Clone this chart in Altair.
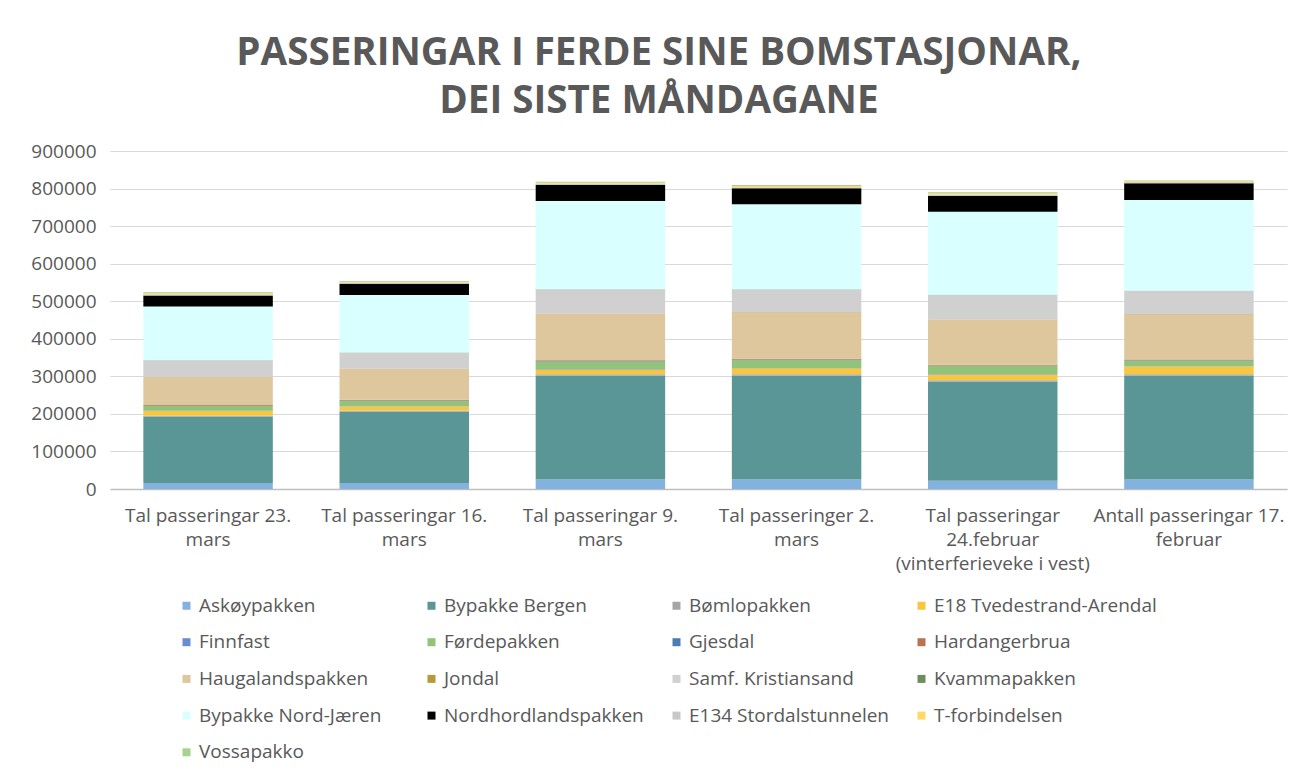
import json
import altair as alt
import pandas as pd

# ---- categories (x) ----
categories = [
    "Tal passeringar 23. mars",
    "Tal passeringar 16. mars",
    "Tal passeringar 9. mars",
    "Tal passeringer 2. mars",
    "Tal passeringar 24.februar (vinterferieveke i vest)",
    "Antall passeringar 17. februar",
]
category_lines = [
    ["Tal passeringar 23.", "mars"],
    ["Tal passeringar 16.", "mars"],
    ["Tal passeringar 9.", "mars"],
    ["Tal passeringer 2.", "mars"],
    ["Tal passeringar", "24.februar", "(vinterferieveke i vest)"],
    ["Antall passeringar 17.", "februar"],
]

# ---- series (stack order bottom -> top) ----
series = [
    "Askøypakken", "Bypakke Bergen", "Bømlopakken", "E18 Tvedestrand-Arendal",
    "Finnfast", "Førdepakken", "Gjesdal", "Hardangerbrua",
    "Haugalandspakken", "Jondal", "Samf. Kristiansand", "Kvammapakken",
    "Bypakke Nord-Jæren", "Nordhordlandspakken", "E134 Stordalstunnelen", "T-forbindelsen",
    "Vossapakko",
]
colors = [
    "#84B2DE", "#5A9696", "#A6A6A6", "#F9C640",
    "#6A8CD2", "#91C47A", "#4C7DB2", "#B97350",
    "#DEC79D", "#B49A38", "#D0D0D0", "#6B8E5A",
    "#D9FFFF", "#000000", "#C8C8C8", "#FFD966",
    "#A9D18E",
]

# ---- values per series, one per category ----
askoy = [16000, 16000, 25000, 25000, 22000, 25000]
bypakke_bergen = [177000, 190500, 277500, 277500, 264500, 277500]
bomlo = [2000, 2000, 3000, 3000, 3000, 3000]
e18 = [13000, 11000, 13000, 16000, 15500, 20500]
finnfast = [1000, 1000, 1000, 1000, 1000, 1000]
forde = [12000, 14000, 20000, 21000, 22000, 14500]
gjesdal = [500, 1000, 1000, 1000, 1000, 1000]
hardangerbrua = [2000, 2000, 2000, 2000, 2000, 2500]
haugaland = [74500, 82000, 124000, 123000, 119500, 120000]
jondal = [500, 500, 1000, 1000, 1000, 1000]
samf_kristiansand = [43500, 43000, 63500, 59500, 65000, 61000]
kvamma = [500, 500, 1000, 1000, 1000, 1000]
nord_jaeren = [143500, 153000, 235000, 227000, 221000, 241500]
nordhordland = [29000, 30000, 42500, 42500, 42000, 44500]
e134 = [3000, 2500, 3000, 3000, 3500, 3000]
t_forbindelsen = [3000, 2500, 3000, 3500, 3500, 2500]
vossapakko = [3000, 2000, 2500, 2500, 2500, 2000]

series_values = [
    askoy, bypakke_bergen, bomlo, e18, finnfast, forde, gjesdal, hardangerbrua,
    haugaland, jondal, samf_kristiansand, kvamma, nord_jaeren, nordhordland,
    e134, t_forbindelsen, vossapakko,
]

y_ticks = [0, 100000, 200000, 300000, 400000, 500000, 600000, 700000, 800000, 900000]

rows = []
for si, (name, vals) in enumerate(zip(series, series_values)):
    for ci, cat in enumerate(categories):
        rows.append({"kategori": cat, "serie": name, "verdi": vals[ci], "idx": si})
df = pd.DataFrame(rows)

FONT = "Open Sans"
TXT = "#595959"

label_expr = "{}[indexof({}, datum.value)]".format(
    json.dumps(category_lines, ensure_ascii=False), json.dumps(categories, ensure_ascii=False)
)

chart = alt.Chart(df).mark_bar().encode(
    x=alt.X(
        "kategori:N",
        sort=categories,
        scale=alt.Scale(paddingInner=0.34, paddingOuter=0.17),
        axis=alt.Axis(
            title=None, labelAngle=0, ticks=False, domainColor="#BFBFBF", domainWidth=1.5,
            labelFontSize=19, labelColor=TXT, labelFont=FONT, labelPadding=17,
            labelLineHeight=24, labelLimit=400, labelExpr=label_expr, grid=False,
        ),
    ),
    y=alt.Y(
        "verdi:Q",
        stack="zero",
        scale=alt.Scale(domain=[0, 900000], nice=False),
        axis=alt.Axis(
            title=None, ticks=False, domain=False, values=y_ticks, format="d",
            gridColor="#D9D9D9", labelFontSize=19, labelColor=TXT, labelFont=FONT,
            labelPadding=14,
        ),
    ),
    color=alt.Color(
        "serie:N",
        sort=series,
        scale=alt.Scale(domain=series, range=colors),
        legend=alt.Legend(
            title=None, orient="none", direction="horizontal", legendX=67, legendY=445,
            columns=4, symbolType="square", symbolSize=64, symbolStrokeWidth=0,
            labelFontSize=19, labelColor=TXT, labelFont=FONT, labelLimit=400,
            columnPadding=-11, rowPadding=16.7, gridAlign="all", padding=0, labelOffset=3,
        ),
    ),
    order=alt.Order("idx:Q", sort="ascending"),
).properties(
    width=1177,
    height=338,
    padding={"left": 102, "top": 143, "right": 2, "bottom": 280},
    autosize=alt.AutoSizeParams(type="none"),
    title=alt.TitleParams(
        text=["PASSERINGAR I FERDE SINE BOMSTASJONAR,", "DEI SISTE MÅNDAGANE"],
        fontSize=38.6, font=FONT, fontWeight="bold", color=TXT, anchor="middle",
        frame="bounds", lineHeight=48, offset=20,
    ),
).configure_view(stroke=None)

chart.save("out.html", embed_options={"renderer": "svg", "actions": False})
